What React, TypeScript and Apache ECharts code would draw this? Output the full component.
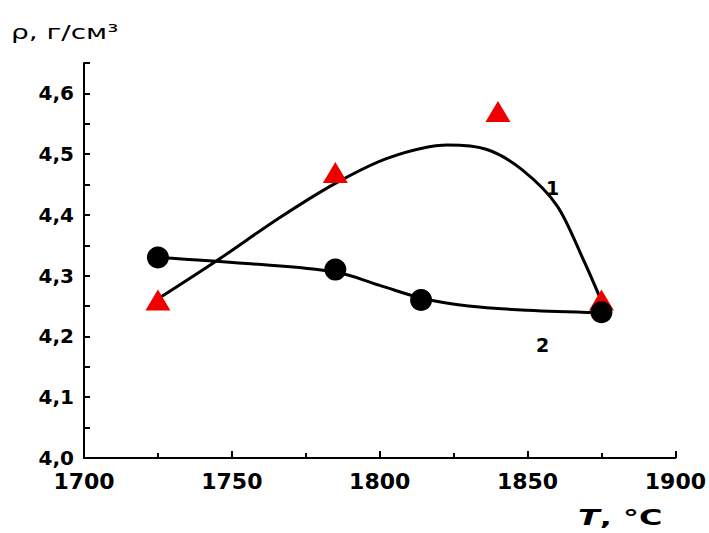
import React, { useEffect, useRef } from "react";
import * as echarts from "echarts";

// Measured points (temperature, °C ; density, g/cm3)
const triangleT = [1725, 1785, 1840, 1875];
const triangleRho = [4.26, 4.47, 4.57, 4.26];
const circleT = [1725, 1785, 1814, 1875];
const circleRho = [4.33, 4.31, 4.26, 4.24];

// Fitted curves
const curve1T = [1725.7, 1745, 1766, 1785, 1803, 1823, 1836, 1848, 1860, 1869, 1874.5];
const curve1Rho = [4.264, 4.325, 4.395, 4.452, 4.494, 4.515, 4.508, 4.475, 4.415, 4.325, 4.264];
const curve2T = [1725, 1755, 1785, 1800, 1815, 1830, 1850, 1874];
const curve2Rho = [4.33, 4.32, 4.306, 4.284, 4.262, 4.25, 4.243, 4.239];

const curveLabels = ["1", "2"];
const yTitle = "ρ, г/см³";

const pair = (xs: number[], ys: number[]) => xs.map((x, i) => [x, ys[i]]);

export default function App() {
  const ref = useRef<HTMLDivElement>(null);
  useEffect(() => {
    if (!ref.current) return;
    const chart = echarts.init(ref.current, null, { renderer: "svg" });
    const labelFont = "DejaVu Sans";
    chart.setOption({
      animation: false,
      backgroundColor: "#fff",
      grid: { left: 84, right: 33, top: 63, bottom: 75, containLabel: false },
      xAxis: {
        type: "value",
        min: 1700,
        max: 1900,
        interval: 50,
        axisLine: { show: true, lineStyle: { color: "#000", width: 2 } },
        axisTick: { show: true, inside: true, length: 7, lineStyle: { color: "#000", width: 2 } },
        minorTick: { show: true, splitNumber: 2, length: 5, lineStyle: { color: "#000", width: 2 } },
        splitLine: { show: false },
        axisLabel: {
          margin: 12,
          color: "#000",
          fontFamily: labelFont,
          fontWeight: "bold",
          fontSize: 22,
          formatter: (v: number) => String(v),
        },
      },
      yAxis: {
        type: "value",
        min: 4.0,
        max: 4.65,
        interval: 0.05,
        axisLine: { show: true, lineStyle: { color: "#000", width: 2 } },
        axisTick: { show: true, inside: true, length: 6, lineStyle: { color: "#000", width: 2 } },
        splitLine: { show: false },
        axisLabel: {
          margin: 10,
          color: "#000",
          fontFamily: labelFont,
          fontWeight: "bold",
          fontSize: 20,
          formatter: (v: number) =>
            Math.round(v * 100) % 10 === 0 ? v.toFixed(1).replace(".", ",") : "",
        },
      },
      series: [
        {
          type: "line",
          data: pair(curve1T, curve1Rho),
          smooth: 0.3,
          showSymbol: false,
          lineStyle: { color: "#000", width: 3 },
          z: 2,
        },
        {
          type: "line",
          data: pair(curve2T, curve2Rho),
          smooth: 0.35,
          showSymbol: false,
          lineStyle: { color: "#000", width: 3 },
          z: 2,
        },
        {
          type: "scatter",
          data: pair(triangleT, triangleRho),
          symbol: "triangle",
          symbolSize: [25, 21],
          itemStyle: { color: "#ee0000", opacity: 1 },
          z: 3,
        },
        {
          type: "scatter",
          data: pair(circleT, circleRho),
          symbol: "circle",
          symbolSize: 22,
          itemStyle: { color: "#000", opacity: 1 },
          z: 4,
        },
      ],
      graphic: [
        {
          type: "text",
          left: 11,
          top: 22,
          scaleX: 1.4,
          style: {
            text: yTitle,
            fontFamily: labelFont,
            fontSize: 20,
            fill: "#000",
          },
        },
        {
          type: "text",
          left: 578,
          top: 506,
          scaleX: 1.45,
          style: {
            text: "{i|T}{b|, °C}",
            rich: {
              i: { fontFamily: labelFont, fontSize: 22, fontWeight: "bold", fontStyle: "italic", fill: "#000" },
              b: { fontFamily: labelFont, fontSize: 22, fontWeight: "bold", fill: "#000" },
            },
          },
        },
        {
          type: "text",
          left: 546,
          top: 178,
          style: { text: curveLabels[0], fontFamily: labelFont, fontSize: 19, fontWeight: "bold", fill: "#000" },
        },
        {
          type: "text",
          left: 536,
          top: 335,
          style: { text: curveLabels[1], fontFamily: labelFont, fontSize: 19, fontWeight: "bold", fill: "#000" },
        },
      ],
    });
    return () => chart.dispose();
  }, []);
  return (
    <div
      ref={ref}
      style={{ position: "fixed", left: 0, top: 0, width: 709, height: 533, background: "#fff" }}
    />
  );
}
